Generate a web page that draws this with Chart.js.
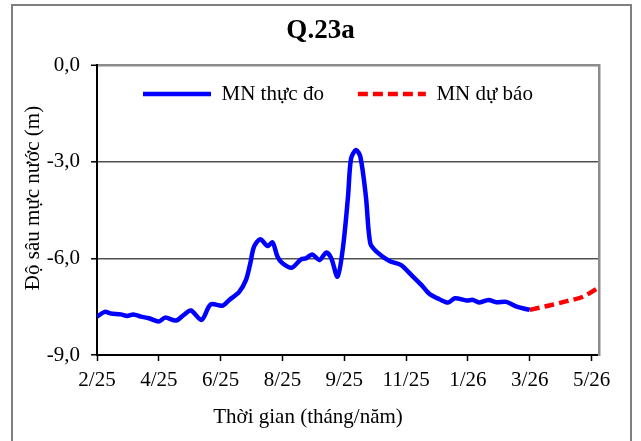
<!DOCTYPE html>
<html><head><meta charset="utf-8">
<script src="https://cdn.jsdelivr.net/npm/chart.js@4/dist/chart.umd.min.js"></script>
<style>html,body{margin:0;padding:0;background:#fff;overflow:hidden}</style>
</head><body>
<canvas id="c" width="641" height="441" style="display:block;width:641px;height:441px"></canvas>
<script>
const chartTitle = 'Q.23a';
const xAxisTitle = 'Thời gian (tháng/năm)';
const yAxisTitle = 'Độ sâu mực nước (m)';
const seriesNames = ['MN thực đo', 'MN dự báo'];
const xTickLabels = ['2/25','4/25','6/25','8/25','9/25','11/25','1/26','3/26','5/26'];
const yTicks = [0, -3, -6, -9];

// time position in tick units (0 = 2/25 tick, 1 = next tick ...)
const obsT = [0,0.125,0.22,0.385,0.49,0.59,0.71,0.84,1.00,1.10,1.28,1.40,1.52,1.69,1.84,2.03,2.14,2.30,2.41,2.48,2.54,2.64,2.76,2.84,2.92,3.00,3.15,3.30,3.38,3.48,3.60,3.71,3.79,3.89,3.98,4.06,4.11,4.19,4.26,4.35,4.42,4.52,4.73,4.92,5.06,5.25,5.38,5.54,5.68,5.79,5.98,6.08,6.19,6.33,6.46,6.62,6.79,7.00];
const obsDepth = [-7.81,-7.66,-7.71,-7.74,-7.79,-7.74,-7.81,-7.86,-7.96,-7.84,-7.93,-7.76,-7.62,-7.91,-7.43,-7.47,-7.29,-7.04,-6.67,-6.15,-5.64,-5.41,-5.62,-5.51,-5.95,-6.15,-6.29,-6.03,-6.00,-5.88,-6.05,-5.82,-6.00,-6.57,-5.64,-4.09,-2.90,-2.64,-2.85,-4.09,-5.53,-5.79,-6.08,-6.21,-6.47,-6.83,-7.11,-7.27,-7.37,-7.24,-7.31,-7.29,-7.37,-7.29,-7.36,-7.35,-7.50,-7.60];
const fcT = [7.00,7.30,7.60,7.85,8.08];
const fcDepth = [-7.60,-7.47,-7.33,-7.20,-6.95];

const FONT = "'Liberation Serif','Times New Roman',serif";

const toPts = (xs, ys) => xs.map((x, i) => ({x: x, y: ys[i]}));

const helper = {
  id: 'helper',
  beforeDraw(chart) {
    const ctx = chart.ctx;
    ctx.save();
    ctx.fillStyle = '#fff';
    ctx.fillRect(0, 0, chart.width, chart.height);
    ctx.strokeStyle = '#7f7f7f';
    ctx.lineWidth = 2;
    ctx.strokeRect(12, 5, 619, 480);
    ctx.restore();
  },
  afterLayout(chart) {
    const lg = chart.legend;
    if (!lg) return;
    const p = lg.options.labels.padding;
    const fs = lg.options.labels.font.size;
    const newTop = 94 - fs / 2 - p;
    const h = fs * 2 + p * 2;
    lg.top = newTop; lg.bottom = newTop + h; lg.height = h;
    const start = (lg.left + p + lg.right - lg.lineWidths[0]) / 2;
    const d = 143 - start;
    lg.left += d; lg.right += d;
  },
  afterDraw(chart) {
    const ctx = chart.ctx;
    ctx.save();
    ctx.fillStyle = '#000';
    ctx.font = '21px ' + FONT;
    ctx.textAlign = 'center';
    ctx.textBaseline = 'middle';
    ctx.fillText(xAxisTitle, 308, 417);
    ctx.translate(33, 198);
    ctx.rotate(-Math.PI / 2);
    ctx.fillText(yAxisTitle, 0, 0);
    ctx.restore();
  }
};

new Chart(document.getElementById('c'), {
  type: 'line',
  data: {
    datasets: [
      {label: seriesNames[0], data: toPts(obsT, obsDepth), borderColor: '#0000ff', backgroundColor: '#0000ff', borderWidth: 4.5, pointRadius: 0, tension: 0.3, fill: false},
      {label: seriesNames[1], data: toPts(fcT, fcDepth), borderColor: '#ff0000', backgroundColor: '#ff0000', borderWidth: 4.5, borderDash: [10, 5], pointRadius: 0, tension: 0.3, fill: false}
    ]
  },
  options: {
    responsive: false,
    animation: false,
    devicePixelRatio: 1,
    layout: {padding: {left: 0, right: 0, top: 0, bottom: 0}},
    plugins: {
      title: {display: true, text: chartTitle, color: '#000', font: {family: FONT, size: 27, weight: 'bold'}, padding: {top: 15, bottom: 17.6}},
      legend: {
        display: true, position: 'top', maxHeight: 0.001,
        labels: {
          usePointStyle: true, pointStyle: 'line', pointStyleWidth: 68, padding: 34, color: '#000', font: {family: FONT, size: 21},
          generateLabels(chart) {
            const items = Chart.defaults.plugins.legend.labels.generateLabels(chart);
            items.forEach((it) => {
              const ds = chart.data.datasets[it.datasetIndex];
              it.lineDash = ds.borderDash || [];
              it.lineWidth = ds.borderWidth;
              it.strokeStyle = ds.borderColor;
              it.fillStyle = ds.borderColor;
              it.pointStyle = 'line';
            });
            return items;
          }
        }
      },
      tooltip: {enabled: false}
    },
    scales: {
      x: {
        type: 'linear', min: 0, max: 8.12,
        afterBuildTicks(s) { s.ticks = xTickLabels.map((_, i) => ({value: i})); },
        afterFit(s) { s.height = 86; s.paddingLeft = 0; s.paddingRight = 0; },
        ticks: {autoSkip: false, maxRotation: 0, padding: 7, color: '#000', font: {family: FONT, size: 21}, callback: (v) => xTickLabels[Math.round(v)]},
        grid: {drawOnChartArea: false, drawTicks: true, tickLength: 6, tickColor: '#000', tickWidth: 1.5},
        border: {display: true, color: '#000', width: 2}
      },
      y: {
        type: 'linear', min: -9, max: 0,
        afterBuildTicks(s) { s.ticks = yTicks.slice().reverse().map(v => ({value: v})); },
        afterFit(s) { s.width = 97; s.paddingTop = 0; s.paddingBottom = 0; },
        ticks: {padding: 11, color: '#000', font: {family: FONT, size: 21}, callback: (v) => v.toFixed(1).replace('.', ',')},
        grid: {
          drawTicks: true, tickLength: 6, tickColor: '#000', tickWidth: 1.5,
          color: (c) => c.tick && c.tick.value === 0 ? '#8c8c8c' : (c.tick && c.tick.value === -9 ? 'rgba(0,0,0,0)' : '#505050'),
          lineWidth: (c) => c.tick && c.tick.value === 0 ? 2.5 : 1.6
        },
        border: {display: true, color: '#000', width: 2}
      },
      y2: {
        type: 'linear', position: 'right', min: -9, max: 0,
        afterFit(s) { s.width = 42; s.paddingTop = 0; s.paddingBottom = 0; },
        ticks: {display: false},
        grid: {display: false, drawTicks: false},
        border: {display: true, color: '#8c8c8c', width: 2.5}
      }
    }
  },
  plugins: [helper]
});
</script>
</body></html>
